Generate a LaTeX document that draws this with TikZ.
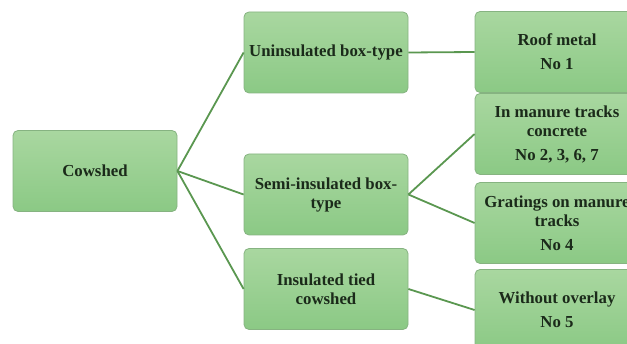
\documentclass[tikz,border=0pt]{standalone}
\usepackage{fontspec}
\setmainfont{Liberation Serif}
\definecolor{boxtop}{HTML}{A9D7A0}
\definecolor{boxbot}{HTML}{8BC985}
\definecolor{boxline}{HTML}{86B381}
\definecolor{linkc}{HTML}{5A9750}
\definecolor{txt}{HTML}{1B2A1A}
\begin{document}
\begin{tikzpicture}[x=1pt,y=-1pt,
  gbox/.style={draw=boxline, line width=0.8pt, rounded corners=5pt,
    top color=boxtop, bottom color=boxbot, minimum width=164pt,
    minimum height=81pt, inner sep=0pt, align=center, text=txt,
    font=\fontsize{16.8}{19}\selectfont\bfseries},
  link/.style={draw=linkc, line width=1.8pt}]
\useasboundingbox (0,0) rectangle (627,344);
\clip (0,0) rectangle (627,344);
\node[gbox] (cow) at (95,171) {Cowshed};
\node[gbox] (un) at (326,52.5) {Uninsulated box-type};
\node[gbox] (semi) at (326,194.5) {Semi-insulated box-\\type};
\node[gbox] (ins) at (326,289) {Insulated tied\\cowshed};
\node[gbox] (roof) at (557,52) {Roof metal\\[5pt]No 1};
\node[gbox] (conc) at (557,134) {In manure tracks\\concrete\\[5pt]No 2, 3, 6, 7};
\node[gbox] (grat) at (557,223) {Gratings on manure\\tracks\\[5pt]No 4};
\node[gbox] (wo) at (557,310) {Without overlay\\[5pt]No 5};
\draw[link] (cow.east) -- (un.west);
\draw[link] (cow.east) -- (semi.west);
\draw[link] (cow.east) -- (ins.west);
\draw[link] (un.east) -- (roof.west);
\draw[link] (semi.east) -- (conc.west);
\draw[link] (semi.east) -- (grat.west);
\draw[link] (ins.east) -- (wo.west);
\end{tikzpicture}
\end{document}
